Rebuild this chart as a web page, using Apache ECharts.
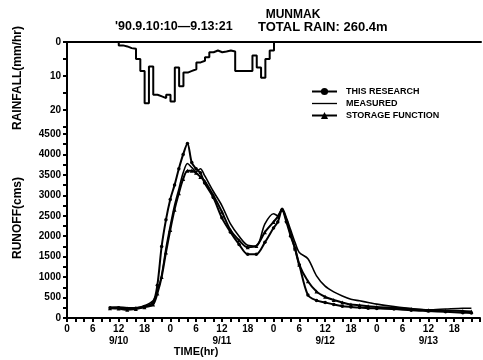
<!DOCTYPE html>
<html>
<head>
<meta charset="utf-8">
<script src="https://cdn.jsdelivr.net/npm/echarts@6/dist/echarts.min.js"></script>
<style>
html,body{margin:0;padding:0;background:#fff;}
#c{width:483px;height:360px;}
</style>
</head>
<body>
<div id="c"></div>
<script>
// ---- data ----
const rainHours = [0,12,13,14,15,16,17,18,19,20,21,22,23,24,25,26,27,28,29,30,31,32,33,34,35,36,37,38,39,40,41,42,43,44,45,46,47,48,96];
const rainValues = [0,1.0,1.3,1.8,2.0,5.0,8.5,18,7.2,15.5,16,16.5,15.5,17.5,7.5,13,9,8.5,8,6,5.5,4.5,3,2.5,3,2.8,2.5,2.8,8.5,8.5,8.5,8.5,4,7.5,10.5,5,2.5,0,0];

const hours = [10,12,14,16,18,20,21,22,23,24,25,26,27,28,29,30,31,32,34,36,38,40,42,44,46,48,49,50,51,52,53,54,56,58,60,62,64,66,68,70,72,76,80,84,88,92,94];
const research = [250,250,230,240,280,380,800,1750,2400,2900,3250,3650,4000,4270,3800,3650,3550,3300,2950,2450,2100,1800,1560,1560,1850,2200,2350,2650,2350,2000,1700,1300,560,430,380,330,290,270,255,240,235,220,190,170,150,130,120];
const measured = [260,270,250,250,300,420,650,1050,1700,2250,2750,3150,3550,3780,3680,3580,3650,3480,3100,2750,2300,2000,1780,1760,2300,2550,2500,2680,2450,2150,1850,1600,1450,1030,780,640,540,460,420,380,340,280,230,200,220,240,240];
const storage = [240,230,200,220,260,330,600,1000,1600,2150,2650,3050,3400,3600,3600,3550,3450,3350,3000,2600,2150,1900,1730,1760,2100,2350,2480,2650,2400,2050,1700,1300,900,650,520,440,380,330,310,290,270,250,220,190,180,170,160];

const legendNames = ['THIS RESEARCH','MEASURED','STORAGE FUNCTION'];
const xTickLabels = ['0','6','12','18'];

// ---- chart ----
const FONT = '"Liberation Sans",Arial,sans-serif';
const pair = (xs, ys) => xs.map((x,i)=>[x, ys[i]]);
const chart = echarts.init(document.getElementById('c'), null, {renderer:'canvas'});

const axisLineStyle = {color:'#000', width:2};
const labelStyle = {color:'#000', fontFamily:FONT, fontWeight:'bold', fontSize:10};

chart.setOption({
  animation:false,
  backgroundColor:'#fff',
  grid:[
    {left:67, right:2, top:42, height:92},
    {left:67, right:2, top:134, height:184}
  ],
  xAxis:[
    {type:'value', gridIndex:0, min:0, max:96, interval:2, position:'top',
     axisLine:{show:true, onZero:false, lineStyle:axisLineStyle},
     axisTick:{show:false}, axisLabel:{show:false}, splitLine:{show:false}},
    {type:'value', gridIndex:1, min:0, max:96, interval:2, position:'bottom',
     axisLine:{show:true, onZero:false, lineStyle:axisLineStyle},
     axisTick:{show:true, inside:false, length:4, lineStyle:{color:'#000', width:2}},
     axisLabel:Object.assign({}, labelStyle, {margin:5, lineHeight:12,
       formatter:v=>{
         if (v%6!==0 || v>=96) return '';
         const hh = v%24;
         const t = xTickLabels[hh/6];
         if (hh===12) return t + '\n9/' + (10+Math.floor(v/24));
         return t;
       }}),
     splitLine:{show:false}}
  ],
  yAxis:[
    {type:'value', gridIndex:0, min:0, max:27.06, interval:5, inverse:true,
     axisLine:{show:true, onZero:false, lineStyle:axisLineStyle},
     axisTick:{show:true, length:4, lineStyle:{color:'#000', width:2}},
     axisLabel:Object.assign({}, labelStyle, {margin:6,
       formatter:v=> (Math.abs(v%10)<1e-6 && v<=20) ? String(v) : ''}),
     splitLine:{show:false}},
    {type:'value', gridIndex:1, min:0, max:4500, interval:250,
     axisLine:{show:true, onZero:false, lineStyle:axisLineStyle},
     axisTick:{show:true, length:4, lineStyle:{color:'#000', width:2}},
     axisLabel:Object.assign({}, labelStyle, {margin:6,
       formatter:v=> (v%500===0) ? String(v) : ''}),
     splitLine:{show:false}}
  ],
  legend:{
    orient:'vertical', left:306, top:82, itemGap:3, itemWidth:25, itemHeight:9,
    data:[
      {name:legendNames[0]},
      {name:legendNames[1], icon:'path://M0,0H30V1.6H0Z'},
      {name:legendNames[2]}
    ],
    textStyle:{color:'#000', fontFamily:FONT, fontWeight:'bold', fontSize:9, padding:[0,0,0,4]}
  },
  graphic:[
    {type:'text', x:293, y:15, style:{text:'MUNMAK', fill:'#000',
      font:'bold 12px '+FONT, textAlign:'center', textVerticalAlign:'middle'}},
    {type:'text', x:115, y:27, style:{text:"'90.9.10:10\u20149.13:21", fill:'#000',
      font:'bold 12.5px '+FONT, textAlign:'left', textVerticalAlign:'middle'}},
    {type:'text', x:258, y:27, style:{text:'TOTAL RAIN: 260.4m', fill:'#000',
      font:'bold 13px '+FONT, textAlign:'left', textVerticalAlign:'middle'}},
    {type:'text', style:{text:'RAINFALL(mm/hr)', fill:'#000', font:'bold 12px '+FONT,
      textAlign:'center', textVerticalAlign:'middle'}, x:18, y:78, rotation:Math.PI/2},
    {type:'text', style:{text:'RUNOFF(cms)', fill:'#000', font:'bold 12px '+FONT,
      textAlign:'center', textVerticalAlign:'middle'}, x:18, y:218, rotation:Math.PI/2},
    {type:'text', style:{text:'TIME(hr)', fill:'#000', font:'bold 11px '+FONT,
      textAlign:'center', textVerticalAlign:'middle'}, x:196, y:352}
  ],
  series:[
    {name:'RAINFALL', type:'line', xAxisIndex:0, yAxisIndex:0, step:'end',
     data:pair(rainHours, rainValues), symbol:'none',
     lineStyle:{color:'#000', width:2}},
    {name:'MEASURED', type:'line', xAxisIndex:1, yAxisIndex:1,
     data:pair(hours, measured), symbol:'none', smooth:0.3,
     lineStyle:{color:'#000', width:1.6}, itemStyle:{color:'#000'}},
    {name:'STORAGE FUNCTION', type:'line', xAxisIndex:1, yAxisIndex:1,
     data:pair(hours, storage), symbol:'triangle', symbolSize:4, showSymbol:true, smooth:0.3,
     lineStyle:{color:'#000', width:2}, itemStyle:{color:'#000'}},
    {name:'THIS RESEARCH', type:'line', xAxisIndex:1, yAxisIndex:1,
     data:pair(hours, research), symbol:'circle', symbolSize:3.5, showSymbol:true, smooth:0.3,
     lineStyle:{color:'#000', width:2}, itemStyle:{color:'#000'}}
  ]
});
</script>
</body>
</html>
